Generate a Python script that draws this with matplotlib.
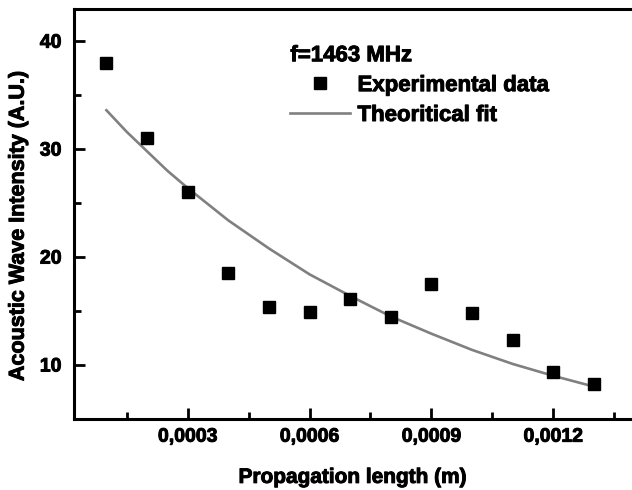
import numpy as np
import matplotlib
matplotlib.use("Agg")
import matplotlib.pyplot as plt
import matplotlib.patheffects as pe
from matplotlib.ticker import FuncFormatter, MultipleLocator

plt.rcParams['font.family'] = ['Liberation Sans', 'DejaVu Sans']
plt.rcParams['font.weight'] = 'bold'

# experimental points
length_m = [0.0001, 0.0002, 0.0003, 0.0004, 0.0005, 0.0006, 0.0007,
            0.0008, 0.0009, 0.0010, 0.0011, 0.0012, 0.0013]
intensity = [38.0, 31.0, 26.0, 18.5, 15.4, 14.9, 16.1,
             14.4, 17.5, 14.8, 12.3, 9.35, 8.25]

# fit curve, values
fit_x = [0.0001, 0.00015, 0.0002, 0.00025, 0.0003, 0.0004, 0.0005, 0.0006,
         0.0007, 0.0008, 0.0009, 0.0010, 0.0011, 0.0012, 0.0013]
fit_y = [33.6, 31.6, 29.8, 28.0, 26.4, 23.4, 20.8, 18.4,
         16.4, 14.5, 12.9, 11.4, 10.1, 9.0, 8.0]

heavy = [pe.withStroke(linewidth=0.7, foreground='black')]

fig = plt.figure(figsize=(6.32, 4.9), dpi=100)
ax = fig.add_axes([0.117, 0.145, 0.883, 0.837])

ax.plot(length_m, intensity, 's', color='black', markersize=8.5,
        label='Experimental data', zorder=3)
ax.plot(fit_x, fit_y, '-', color='#808080', lw=1.9, label='Theoritical fit')

ax.set_xlim(0.00002, 0.001394)
ax.set_ylim(5, 43)

ax.xaxis.set_major_locator(MultipleLocator(0.0003))
ax.xaxis.set_minor_locator(MultipleLocator(0.00015))
ax.yaxis.set_major_locator(MultipleLocator(10))
ax.yaxis.set_minor_locator(MultipleLocator(5))
ax.xaxis.set_major_formatter(FuncFormatter(lambda v, p: f"{v:.4f}".replace('.', ',')))

ax.tick_params(which='both', direction='in', width=2, labelsize=14)
ax.tick_params(which='major', length=8)
ax.tick_params(which='minor', length=5)
ax.tick_params(axis='x', pad=7)
ax.tick_params(axis='y', pad=9)

for s in ['left', 'bottom', 'top']:
    ax.spines[s].set_linewidth(2.2)
ax.spines['right'].set_visible(False)

ax.set_xlabel('Propagation length (m)', fontsize=15, fontweight='bold', labelpad=16)
ax.set_ylabel('Acoustic Wave Intensity (A.U.)', fontsize=15.5, fontweight='bold', labelpad=8)
ax.yaxis.label.set_y(0.471)

leg = ax.legend(loc='upper left', bbox_to_anchor=(0.352, 0.96), frameon=False,
                title='f=1463 MHz', alignment='left', fontsize=16,
                handlelength=2.7, handletextpad=0.32, labelspacing=0.4,
                borderpad=0.4)
leg.get_title().set_fontsize(16)
leg.get_title().set_fontweight('bold')

texts = [ax.xaxis.label, ax.yaxis.label, leg.get_title()] + leg.get_texts()
texts += ax.get_xticklabels() + ax.get_yticklabels()
for t in texts:
    t.set_path_effects(heavy)

fig.savefig('out.png', dpi=100)
